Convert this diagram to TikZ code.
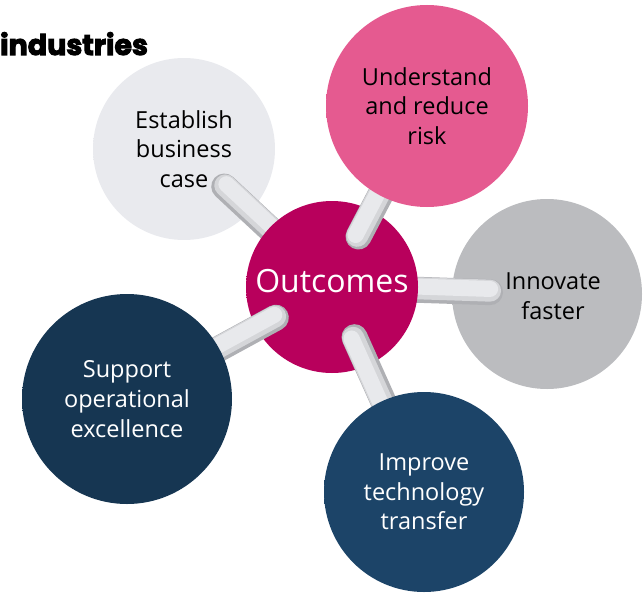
\documentclass[tikz,border=0pt]{standalone}
\usepackage{fontspec}
\setmainfont{Open Sans}
\newfontfamily\titlefont{Poppins}[BoldFeatures={FakeBold=3.5}]
\usetikzlibrary{calc}
\definecolor{cEst}{HTML}{E9EAEE}
\definecolor{cEstD}{HTML}{7E7F83}
\definecolor{cPink}{HTML}{E55A90}
\definecolor{cPinkD}{HTML}{7A2548}
\definecolor{cMag}{HTML}{B8005C}
\definecolor{cMagD}{HTML}{50002A}
\definecolor{cGray}{HTML}{BBBCBF}
\definecolor{cGrayD}{HTML}{5A5B5E}
\definecolor{cNavy}{HTML}{163652}
\definecolor{cNavyD}{HTML}{060F18}
\definecolor{cBlue}{HTML}{1C4468}
\definecolor{cBlueD}{HTML}{081622}
\definecolor{cPipe}{HTML}{E8E9EC}
\definecolor{cPipeM}{HTML}{D5D6D9}
\definecolor{cPipeD}{HTML}{AFB0B4}
\newcommand\mkball[3]{\pgfdeclareradialshading{#1}{\pgfpoint{-3bp}{3bp}}{color(0bp)=(#2); color(45.5bp)=(#2); color(53.5bp)=(#3); color(60bp)=(#3)}}
\mkball{shEst}{cEst}{cEstD}
\mkball{shPink}{cPink}{cPinkD}
\mkball{shMag}{cMag}{cMagD}
\mkball{shGray}{cGray}{cGrayD}
\mkball{shNavy}{cNavy}{cNavyD}
\mkball{shBlue}{cBlue}{cBlueD}
\tikzset{
  ball/.style={circle, inner sep=0pt, shade, align=center,
    font=\fontsize{23.5}{29.7}\selectfont},
  balltext/.style={inner sep=0pt, align=center, font=\fontsize{23.5}{29.7}\selectfont},
  pipebase/.style={draw=cPipeD, line width=26pt, line cap=round},
  pipemid/.style={draw=cPipeM, line width=22pt, line cap=round},
  pipetop/.style={draw=cPipe, line width=16pt, line cap=round},
}
\begin{document}
\begin{tikzpicture}[x=1pt,y=-1pt]
\useasboundingbox (0,0) rectangle (644,594);
\node[anchor=base west, inner sep=0pt, font=\titlefont\bfseries\fontsize{28.5}{28.5}\selectfont] (title) at (0,55) {industries};
% outer circles under their pipes
\node[ball, minimum size=182pt, shading=shEst, text=black] (E) at (184,149) {Establish\\business\\case};
\node[ball, minimum size=190pt, shading=shGray] (I) at (547,294) {};
\node[balltext, text=black] (Itext) at (553,296) {Innovate\\faster};
\coordinate (C0) at (332,287);
\coordinate (pE) at ($(E)!55pt!(C0)$);
\coordinate (pI) at ($(I)!57pt!(C0)$);
\foreach \a/\b/\s/\t in {pE/C0/90/-90, pI/C0/-90/90}{
  \draw[pipebase] (\a) -- (\b);
  \draw[pipemid] ($(\a)!1.5pt!\s:(\b)$) -- ($(\b)!1.5pt!\t:(\a)$);
  \draw[pipetop] ($(\a)!3.2pt!\s:(\b)$) -- ($(\b)!3.2pt!\t:(\a)$);
}
% centre
\node[ball, minimum size=172pt, shading=shMag] (C) at (C0) {};
\node[inner sep=0pt, text=white, font=\fontsize{32}{32}\selectfont] (Ctext) at (332,281) {Outcomes};
% pipes over the centre
\coordinate (U0) at (427,106);
\coordinate (S0) at (127,399);
\coordinate (T0) at (424,492);
\coordinate (pU) at ($(C)!57pt!(U0)$);
\coordinate (pS) at ($(C)!64pt!(S0)$);
\coordinate (pT) at ($(C)!55pt!(T0)$);
\foreach \a/\b/\s/\t in {pU/U0/90/-90, pS/S0/-90/90, pT/T0/-90/90}{
  \draw[pipebase] (\a) -- (\b);
  \draw[pipemid] ($(\a)!1.5pt!\s:(\b)$) -- ($(\b)!1.5pt!\t:(\a)$);
  \draw[pipetop] ($(\a)!3.2pt!\s:(\b)$) -- ($(\b)!3.2pt!\t:(\a)$);
}
\node[ball, minimum size=202pt, shading=shPink, text=black] (U) at (U0) {Understand\\and reduce\\risk};
\node[ball, minimum size=210pt, shading=shNavy, text=white] (S) at (S0) {Support\\operational\\excellence};
\node[ball, minimum size=200pt, shading=shBlue, text=white] (T) at (T0) {Improve\\technology\\transfer};
\end{tikzpicture}
\end{document}
